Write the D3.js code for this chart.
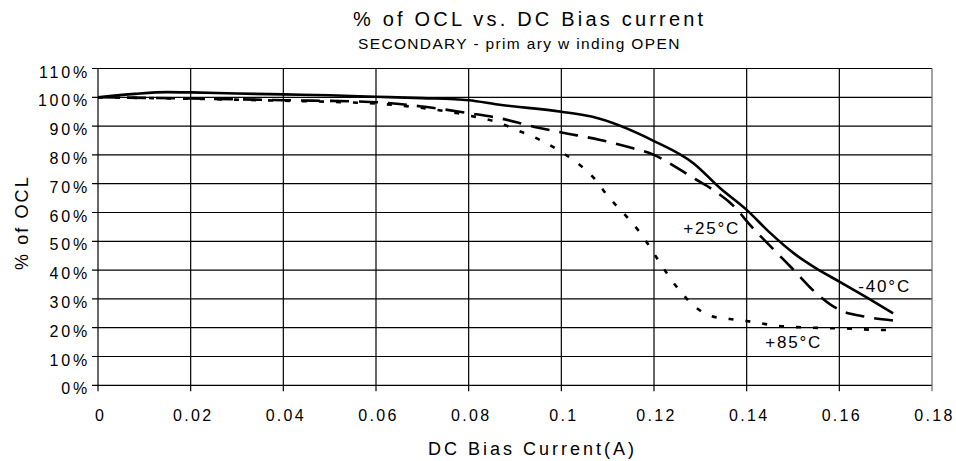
<!DOCTYPE html>
<html>
<head>
<meta charset="utf-8">
<script src="https://cdn.jsdelivr.net/npm/d3@7"></script>
<style>
body { margin: 0; background: #fff; }
text { font-family: Arial, "Liberation Sans", sans-serif; fill: #000; }
</style>
</head>
<body>
<script>
// values
var xTicks = [0, 0.02, 0.04, 0.06, 0.08, 0.1, 0.12, 0.14, 0.16, 0.18];
var yTicks = [0, 10, 20, 30, 40, 50, 60, 70, 80, 90, 100, 110];

var cold = [[0, 100], [0.008, 101.2], [0.015, 101.8], [0.02, 101.7], [0.03, 101.3], [0.04, 101], [0.05, 100.7],
  [0.06, 100.2], [0.07, 99.7], [0.08, 99], [0.0863, 97.5], [0.1, 95], [0.1065, 93.3], [0.12, 84.8],
  [0.1285, 77.1], [0.1343, 68.4], [0.14, 60.9], [0.145, 53], [0.1502, 45.8], [0.155, 40.6],
  [0.16, 36], [0.1659, 30.5], [0.1716, 25]];
var room = [[0, 100], [0.02, 99.6], [0.04, 99], [0.06, 98.3], [0.07, 96.8], [0.08, 94.5], [0.0868, 92.7],
  [0.094, 89.8], [0.1, 87.8], [0.1084, 85.2], [0.1155, 82.3], [0.12, 80], [0.125, 75.5], [0.1285, 72],
  [0.1328, 67.8], [0.138, 60.9], [0.14, 57], [0.145, 48.5], [0.15, 40.3], [0.155, 32], [0.16, 26.2],
  [0.165, 24], [0.1716, 22.5]];
var hot = [[0, 100], [0.02, 99.5], [0.04, 98.8], [0.06, 97.8], [0.07, 96.3], [0.08, 93.7], [0.0868, 91],
  [0.0904, 88.6], [0.094, 86.3], [0.0968, 84], [0.1, 81], [0.104, 76.5], [0.107, 72], [0.11, 65.8],
  [0.1144, 58], [0.117, 53], [0.1213, 42.5], [0.1235, 37.2], [0.126, 32], [0.1289, 27.2],
  [0.1324, 24], [0.1364, 23], [0.14, 22.3], [0.147, 20.6], [0.154, 20], [0.1616, 19.7],
  [0.1694, 19.2], [0.1716, 19.2]];

var series = [
  { name: "-40°C", pts: cold, dash: null, lx: 0.1641, ly: 32.5 },
  { name: "+25°C", pts: room, dash: "19,10", lx: 0.1263, ly: 52.5 },
  { name: "+85°C", pts: hot, dash: "5,12", lx: 0.144, ly: 12.85 }
];

var W = 956, H = 461;
var m = { left: 98, right: 24, top: 68.5, bottom: 75.7 };

var svg = d3.select("body").append("svg").attr("width", W).attr("height", H);

var x = d3.scaleLinear().domain([0, 0.18]).range([m.left, W - m.right]);
var y = d3.scaleLinear().domain([0, 110]).range([H - m.bottom, m.top]);

// grid
svg.append("g").selectAll("line").data(yTicks).enter().append("line")
  .attr("x1", x(0) - 6).attr("x2", x(0.18))
  .attr("y1", d => y(d)).attr("y2", d => y(d))
  .attr("stroke", "#000").attr("stroke-width", 1.2);
svg.append("g").selectAll("line").data(xTicks).enter().append("line")
  .attr("x1", d => x(d)).attr("x2", d => x(d))
  .attr("y1", y(110)).attr("y2", y(0) + 6)
  .attr("stroke", d => d == 0.18 ? "#666" : "#000").attr("stroke-width", 1.2);

// tick labels
svg.append("g").selectAll("text").data(yTicks).enter().append("text")
  .attr("x", x(0) - 8).attr("y", d => y(d) + 9)
  .attr("text-anchor", "end").style("font-size", "16px").style("letter-spacing", "2.8px")
  .text(d => d + "%");
svg.append("g").selectAll("text").data(xTicks).enter().append("text")
  .attr("x", d => x(d) + 2.5).attr("y", 421)
  .attr("text-anchor", "middle").style("font-size", "16px").style("letter-spacing", "2.3px")
  .text(d => d3.format("")(d));

// curves
var line = d3.line().x(d => x(d[0])).y(d => y(d[1])).curve(d3.curveMonotoneX);
svg.append("g").selectAll("path").data(series).enter().append("path")
  .attr("d", d => line(d.pts))
  .attr("fill", "none").attr("stroke", "#000").attr("stroke-width", 2.6)
  .attr("stroke-dasharray", d => d.dash);

svg.append("g").selectAll("text").data(series).enter().append("text")
  .attr("x", d => x(d.lx)).attr("y", d => y(d.ly))
  .style("font-size", "17px").style("letter-spacing", "1.8px")
  .text(d => d.name);

// titles
svg.append("text").attr("x", 353).attr("y", 26)
  .style("font-size", "20px").style("letter-spacing", "3.2px").text("% of OCL vs. DC Bias current");
svg.append("text").attr("x", 358).attr("y", 49)
  .style("font-size", "15.5px").style("letter-spacing", "1.35px").text("SECONDARY - prim ary w inding OPEN");
svg.append("text").attr("x", 428).attr("y", 455)
  .style("font-size", "18px").style("letter-spacing", "3px").text("DC Bias Current(A)");
svg.append("text").attr("transform", "translate(27.5,270) rotate(-90)")
  .style("font-size", "18px").style("letter-spacing", "2.1px").text("% of OCL");
</script>
</body>
</html>
